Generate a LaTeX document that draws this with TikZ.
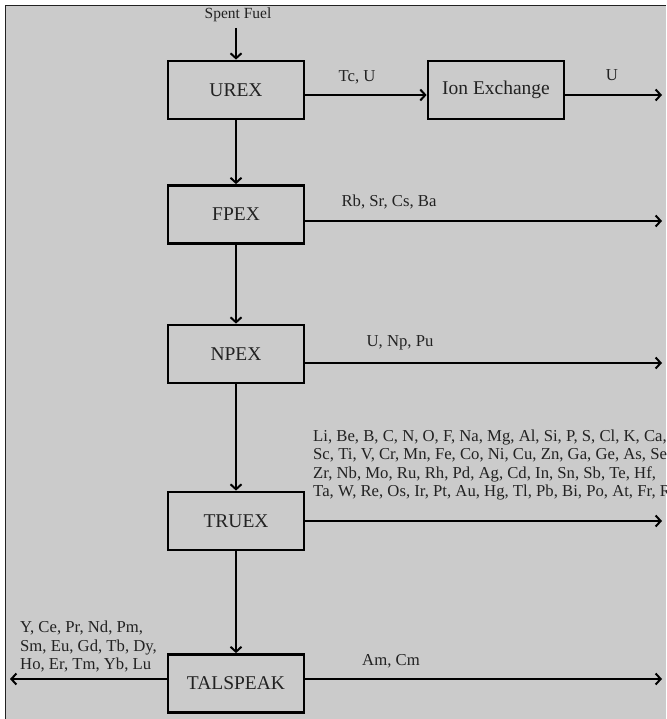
\documentclass[tikz,border=0pt]{standalone}
\usepackage{fontspec}
\setmainfont{Liberation Serif}
\usepackage{tikz}
\usetikzlibrary{arrows.meta, positioning, calc}

\definecolor{panelgray}{HTML}{CBCBCB}
\definecolor{inkgray}{HTML}{222222}

\tikzset{
  stage/.style={draw=black, line width=2.8pt, fill=panelgray, minimum width=136pt,
    minimum height=58pt, inner sep=0pt, font=\fontsize{19.5}{22}\selectfont, text=inkgray},
  flow/.style={line width=2.2pt, draw=black, -{Straight Barb[length=5pt,width=11pt,line width=2pt]}},
  stream/.style={font=\fontsize{16.7}{18.6}\selectfont, text=inkgray, inner sep=0pt, align=left}
}

\begin{document}
\begin{tikzpicture}[x=1pt,y=-1pt]
  % Page and panel
  \useasboundingbox (0,0) rectangle (666,719);
  \fill[white] (0,0) rectangle (666,719);
  \fill[panelgray] (5,5) rectangle (666,719);
  \draw[line width=1.3pt, inkgray] (5.5,719) -- (5.5,5.5) -- (666,5.5);

  % Process stages
  \node[stage] (urex) at (236,90) {UREX};
  \node[stage] (ionex) at (496,90) {Ion Exchange};
  \node[stage] (fpex) at (236,214.5) {FPEX};
  \node[stage] (npex) at (236,354) {NPEX};
  \node[stage] (truex) at (236,521) {TRUEX};
  \node[stage] (talspeak) at (236,683.5) {TALSPEAK};

  % Feed
  \node[stream] (feed) at (238,15) {\fontsize{15.5}{17}\selectfont Spent Fuel};
  \draw[flow] (236,28) -- (urex.north);

  % Main column
  \draw[flow] (urex.south) -- (fpex.north);
  \draw[flow] (fpex.south) -- (npex.north);
  \draw[flow] (npex.south) -- (truex.north);
  \draw[flow] (truex.south) -- (talspeak.north);

  % Free ends of the product streams
  \coordinate (uout) at (662,95);
  \coordinate (fpout) at (662,221);
  \coordinate (npout) at (662,363);
  \coordinate (truout) at (662,521);
  \coordinate (amout) at (662,679);
  \coordinate (lnout) at (10,679);

  % Product streams
  \draw[flow] (urex.east |- uout) -- (ionex.west |- uout);
  \draw[flow] (ionex.east |- uout) -- (uout);
  \draw[flow] (fpex.east |- fpout) -- (fpout);
  \draw[flow] (npex.east |- npout) -- (npout);
  \draw[flow] (truex.east |- truout) -- (truout);
  \draw[flow] (talspeak.east |- amout) -- (amout);
  \draw[flow] (talspeak.west |- lnout) -- (lnout);

  % Stream labels
  \node[stream] (tcu) at (357,77) {Tc, U};
  \node[stream] (uonly) at (612,75) {U};
  \node[stream] (fpl) at (389,202) {Rb, Sr, Cs, Ba};
  \node[stream] (npl) at (400,343) {U, Np, Pu};
  \node[stream, anchor=west] (trul) at (313,465)
    {Li, Be, B, C, N, O, F, Na, Mg, Al, Si, P, S, Cl, K, Ca,\\
     Sc, Ti, V, Cr, Mn, Fe, Co, Ni, Cu, Zn, Ga, Ge, As, Se,\\
     Zr, Nb, Mo, Ru, Rh, Pd, Ag, Cd, In, Sn, Sb, Te, Hf,\\
     Ta, W, Re, Os, Ir, Pt, Au, Hg, Tl, Pb, Bi, Po, At, Fr, Ra};
  \node[stream, anchor=west] (lnl) at (20,646.5)
    {Y, Ce, Pr, Nd, Pm,\\ Sm, Eu, Gd, Tb, Dy,\\ Ho, Er, Tm, Yb, Lu};
  \node[stream] (aml) at (391,661) {Am, Cm};
\end{tikzpicture}
\end{document}
